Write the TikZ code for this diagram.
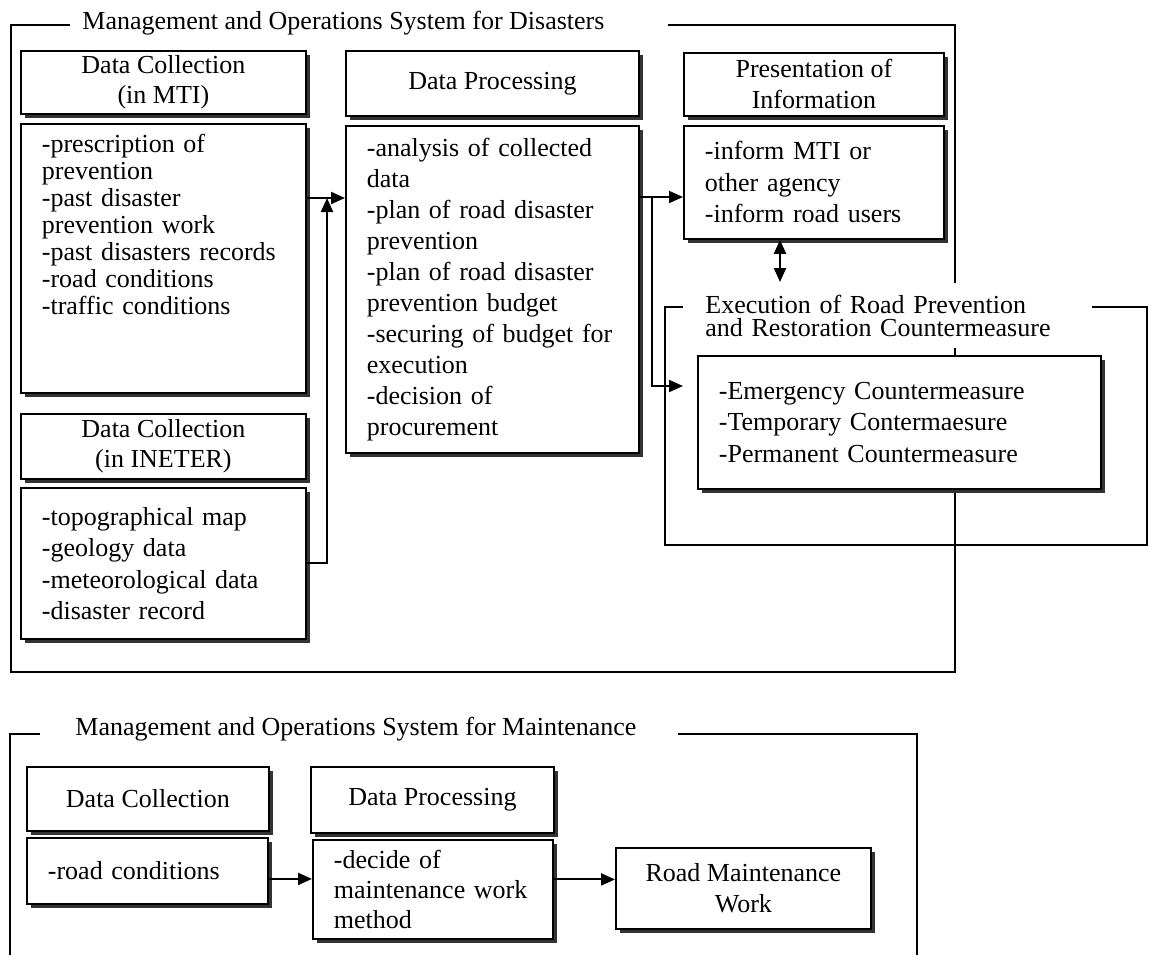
\documentclass[tikz,border=0pt]{standalone}
\usepackage{fontspec}
\setmainfont{Liberation Serif}
\usetikzlibrary{arrows.meta,shadows}

\begin{document}
\begin{tikzpicture}[x=0.5pt, y=-0.5pt,
    box/.style={draw, fill=white, line width=0.9pt, anchor=north west,
      drop shadow={shadow xshift=2pt, shadow yshift=-2pt,
        fill=black!80, opacity=1}},
    headbox/.style={box, align=center, inner sep=2pt,
      font=\fontsize{13}{15}\selectfont},
    bodybox/.style={box, align=left, inner xsep=10.5pt, inner ysep=5pt,
      font=\fontsize{13}{15.75}\selectfont},
    sysframe/.style={line width=0.8pt},
    systitle/.style={font=\fontsize{13}{15}\selectfont, inner sep=0pt,
      anchor=base west},
    arr/.style={-{Triangle[length=7pt, width=6pt]}, line width=1pt},
    arrboth/.style={{Triangle[length=7pt, width=6pt]}-{Triangle[length=7pt, width=6pt]},
      line width=1pt},
  ]
  \useasboundingbox (0,0) rectangle (1149,955);

  % --- Disasters system (top) ---
  \draw[sysframe] (70,25) -- (11,25) |- (955,672) -- (955,25) -- (668,25);
  \node[systitle] (sysDis) at (82,29)
    {Management and Operations System for Disasters};

  % Execution frame, its title covers the lines behind it
  \draw[sysframe] (665,307) rectangle (1147,545);
  \node[fill=white, anchor=north west, align=left, text width=182.5pt,
    inner xsep=11pt, inner ysep=0pt, minimum height=32.5pt,
    font=\fontsize{13}{11.5}\selectfont] (execTitle) at (683,283)
    {Execution of Road Prevention\\and Restoration Countermeasure};

  % Data collection in MTI
  \node[headbox, minimum width=142.5pt, minimum height=31.5pt] (mtiHead)
    at (20,50) {Data Collection\\(in MTI)};
  \node[bodybox, text width=121.5pt, minimum height=134.5pt,
    font=\fontsize{13}{13.5}\selectfont] (mtiBody) at (20,123)
    {-prescription of\\prevention\\-past disaster\\prevention work\\-past disasters records\\-road conditions\\-traffic conditions\rule[-34pt]{0pt}{0pt}};

  % Data collection in INETER
  \node[headbox, minimum width=142.5pt, minimum height=32.5pt] (inetHead)
    at (20,413) {Data Collection\\(in INETER)};
  \node[bodybox, text width=121.5pt, minimum height=75.5pt] (inetBody)
    at (20,487)
    {-topographical map\\-geology data\\-meteorological data\\-disaster record};

  % Data processing
  \node[headbox, minimum width=146.5pt, minimum height=32.5pt] (dpHead)
    at (345,50) {Data Processing};
  \node[bodybox, text width=125.5pt, minimum height=163.5pt,
    font=\fontsize{13}{15.5}\selectfont] (dpBody) at (345,125)
    {-analysis of collected\\data\\-plan of road disaster\\prevention\\-plan of road disaster\\prevention budget\\-securing of budget for\\execution\\-decision of\\procurement};

  % Presentation of information
  \node[headbox, minimum width=130pt, minimum height=31.5pt,
    font=\fontsize{13}{15.5}\selectfont] (presHead) at (683,52)
    {Presentation of\\Information};
  \node[bodybox, text width=109pt, minimum height=56.5pt] (presBody)
    at (683,125) {-inform MTI or\\other agency\\-inform road users};

  % Countermeasures
  \node[bodybox, text width=180.5pt, minimum height=66.5pt] (measures)
    at (697,355)
    {-Emergency Countermeasure\\-Temporary Contermaesure\\-Permanent Countermeasure};

  % Connectors
  \coordinate (join) at (327,198);
  \coordinate (split) at (652,197);
  \coordinate (toExec) at (683,386);
  \coordinate (execTop) at (780,282);
  \draw[arr] (mtiBody.east |- join) -- (dpBody.west |- join);
  \draw[arr] (inetBody.east) -| (join);
  \draw[arr] (dpBody.east |- split) -- (presBody.west |- split);
  \draw[arr] (split) |- (toExec);
  \draw[arrboth] (presBody.south -| execTop) -- (execTop);

  % --- Maintenance system (bottom) ---
  \draw[sysframe] (40,734) -- (10,734) -- (10,955);
  \draw[sysframe] (678,734) -- (917,734) -- (917,955);
  \node[systitle] (sysMnt) at (75,735)
    {Management and Operations System for Maintenance};

  \node[headbox, minimum width=121pt, minimum height=32pt] (mntColHead)
    at (26,766) {Data Collection};
  \node[bodybox, text width=99.5pt, minimum height=33pt] (roadCond)
    at (26,837) {-road conditions};

  \node[headbox, minimum width=121.5pt, minimum height=33pt] (mntProcHead)
    at (310,766) {Data Processing};
  \node[bodybox, text width=99pt, minimum height=49.5pt, inner ysep=3pt,
    font=\fontsize{13}{15}\selectfont] (decide) at (312,839)
    {-decide of\\maintenance work\\method};

  \node[headbox, minimum width=127.5pt, minimum height=40.5pt,
    font=\fontsize{13}{15.5}\selectfont] (roadWork) at (615,847)
    {Road Maintenance\\Work};

  \draw[arr] ([yshift=-4pt]roadCond.east) -- ([yshift=-4pt]roadCond.east -| decide.west);
  \draw[arr] ([yshift=5pt]decide.east) -- ([yshift=5pt]decide.east -| roadWork.west);
\end{tikzpicture}
\end{document}
